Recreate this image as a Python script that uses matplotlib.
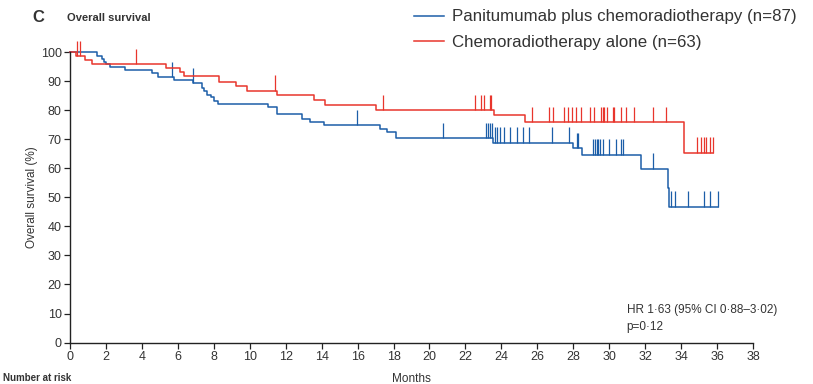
import matplotlib
matplotlib.use("Agg")
import matplotlib.pyplot as plt
import numpy as np
from matplotlib import font_manager

# --- data (months, % surviving) ---
pan_times = [0, 1.52, 1.76, 1.88, 1.99, 2.23, 3.06, 4.56, 4.9, 5.8, 6.86, 7.33, 7.47,
             7.64, 7.85, 8.01, 8.22, 11.04, 11.54, 12.93, 13.36, 14.13, 17.25, 17.66,
             18.14, 23.56, 28.0, 28.47, 31.78, 33.26, 33.35]
pan_surv = [100, 98.8, 97.7, 96.6, 95.9, 94.9, 93.8, 92.8, 91.4, 90.3, 89.3, 87.8, 86.8,
            85.3, 84.5, 83.3, 82.2, 81.0, 78.7, 77.2, 75.9, 74.8, 73.6, 72.6,
            70.4, 68.8, 67.0, 64.7, 59.9, 53.1, 46.8]
pan_end = 36.08
pan_censor = [5.68, 6.86, 15.99, 20.77, 23.15, 23.28, 23.37, 23.46, 23.65, 23.78, 23.93,
              24.15, 24.5, 24.86, 25.23, 25.56, 26.8, 27.79, 28.2, 28.29, 29.12, 29.2,
              29.3, 29.4, 29.5, 29.64, 30.0, 30.4, 30.64, 30.79, 32.46, 33.44, 33.67,
              34.39, 35.3, 35.58, 36.08]

crt_times = [0, 0.35, 0.83, 1.2, 5.34, 6.12, 6.34, 8.29, 9.22, 9.83, 11.54, 13.6, 14.19,
             17.03, 23.61, 25.34, 34.17]
crt_surv = [100, 98.6, 97.2, 95.9, 94.5, 93.3, 91.8, 89.7, 88.4, 86.8, 85.4, 83.7, 81.7,
            80.1, 78.4, 75.9, 65.4]
crt_end = 35.8
crt_censor = [0.37, 0.57, 3.67, 11.41, 17.4, 22.52, 22.89, 23.04, 23.37, 23.45, 25.71,
              26.64, 26.86, 27.49, 27.71, 27.94, 28.16, 28.42, 28.94, 29.16, 29.55, 29.64,
              29.71, 29.9, 30.23, 30.27, 30.64, 30.94, 31.39, 32.46, 33.15, 34.87, 35.1,
              35.3, 35.39, 35.58, 35.8]

x_ticks = list(range(0, 39, 2))
y_ticks = list(range(0, 101, 10))

BLUE = "#1c5ea8"
RED = "#e8352c"
TEXT = "#333333"

installed = {f.name for f in font_manager.fontManager.ttflist}
family = "Liberation Sans Narrow" if "Liberation Sans Narrow" in installed else "Liberation Sans"
plt.rcParams["font.family"] = [family, "DejaVu Sans"]


def surv_at(times, surv, t):
    idx = np.searchsorted(times, t, side="right") - 1
    return np.asarray(surv)[idx]


def draw_arm(ax, times, surv, end, censor, color, label):
    t = list(times) + [end]
    s = list(surv) + [surv[-1]]
    ax.step(t, s, where="post", color=color, linewidth=1.1, label=label, clip_on=False)
    c = np.asarray(censor)
    base = surv_at(times, surv, c)
    ax.vlines(c, base, base + 5.3, color=color, linewidth=0.9, clip_on=False)


fig = plt.figure(figsize=(8.13, 3.84), dpi=100)
ax = fig.add_axes([0.0861, 0.108, 0.8401, 0.7557])

draw_arm(ax, pan_times, pan_surv, pan_end, pan_censor, BLUE,
         "Panitumumab plus chemoradiotherapy (n=87)")
draw_arm(ax, crt_times, crt_surv, crt_end, crt_censor, RED,
         "Chemoradiotherapy alone (n=63)")

ax.set_xlim(0, 38)
ax.set_ylim(0, 100)
ax.set_xticks(x_ticks)
ax.set_yticks(y_ticks)
ax.spines["top"].set_visible(False)
ax.spines["right"].set_visible(False)
for sp in ("left", "bottom"):
    ax.spines[sp].set_color("#222222")
    ax.spines[sp].set_linewidth(1.0)
ax.tick_params(length=4, width=0.9, color="#222222", labelsize=9, labelcolor=TEXT, pad=2)
ax.set_xlabel("Months", fontsize=8.5, color=TEXT, labelpad=7)
ax.set_ylabel("Overall survival (%)", fontsize=8.5, color=TEXT, labelpad=2)

ax.text(0.815, 0.083, "HR 1·63 (95% CI 0·88–3·02)\np=0·12", transform=ax.transAxes,
        fontsize=8.5, color=TEXT, va="center", ha="left", linespacing=1.55)

fig.text(0.040, 0.955, "C", fontsize=12, fontweight="bold", color=TEXT, va="center", ha="left")
fig.text(0.082, 0.952, "Overall survival", fontsize=8, fontweight="bold", color=TEXT,
         va="center", ha="left")

fig.legend(loc="upper left", bbox_to_anchor=(0.490, 1.015), frameon=False, fontsize=12.2,
           handlelength=1.8, handletextpad=0.45, labelspacing=0.6, labelcolor=TEXT)

fig.text(0.004, 0.002, "Number at risk", fontsize=7, fontweight="bold", color=TEXT,
         va="bottom", ha="left")

fig.savefig("out.png", dpi=100)
